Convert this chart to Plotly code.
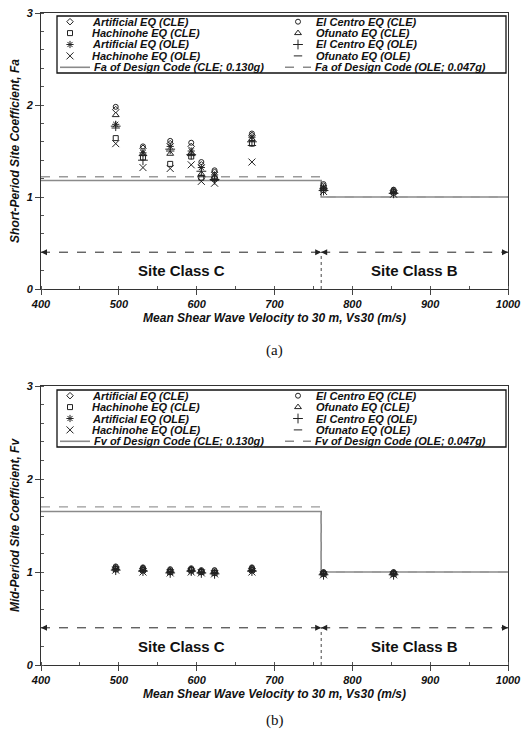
import plotly.graph_objects as go

# ---------------- data ----------------
vs30 = [496, 531, 566, 593, 606, 623, 671, 763, 853]

series_names = ["Artificial EQ (CLE)", "El Centro EQ (CLE)", "Hachinohe EQ (CLE)", "Ofunato EQ (CLE)",
                "Artificial EQ (OLE)", "El Centro EQ (OLE)", "Hachinohe EQ (OLE)", "Ofunato EQ (OLE)"]

fa_art_cle = [1.95, 1.53, 1.58, 1.55, 1.35, 1.27, 1.67, 1.12, 1.07]
fa_elc_cle = [1.98, 1.55, 1.61, 1.59, 1.38, 1.29, 1.69, 1.14, 1.08]
fa_hac_cle = [1.64, 1.43, 1.36, 1.44, 1.21, 1.20, 1.58, 1.08, 1.05]
fa_ofu_cle = [1.89, 1.47, 1.47, 1.48, 1.25, 1.22, 1.63, 1.10, 1.06]
fa_art_ole = [1.79, 1.48, 1.55, 1.50, 1.32, 1.24, 1.65, 1.10, 1.05]
fa_elc_ole = [1.77, 1.40, 1.52, 1.46, 1.28, 1.19, 1.60, 1.07, 1.04]
fa_hac_ole = [1.58, 1.32, 1.31, 1.35, 1.17, 1.15, 1.38, 1.06, 1.03]
fa_ofu_ole = [1.75, 1.45, 1.50, 1.45, 1.22, 1.18, 1.56, 1.09, 1.04]

fv_art_cle = [1.05, 1.04, 1.02, 1.03, 1.01, 1.01, 1.04, 0.99, 0.99]
fv_elc_cle = [1.06, 1.05, 1.03, 1.04, 1.02, 1.02, 1.05, 1.00, 1.00]
fv_hac_cle = [1.03, 1.02, 1.00, 1.02, 1.00, 0.99, 1.02, 0.98, 0.98]
fv_ofu_cle = [1.04, 1.03, 1.01, 1.03, 1.01, 1.00, 1.03, 0.99, 0.99]
fv_art_ole = [1.03, 1.02, 1.00, 1.01, 1.00, 0.99, 1.02, 0.98, 0.98]
fv_elc_ole = [1.02, 1.01, 0.99, 1.01, 0.99, 0.98, 1.01, 0.97, 0.97]
fv_hac_ole = [1.02, 1.00, 0.99, 1.00, 0.99, 0.98, 1.00, 0.97, 0.97]
fv_ofu_ole = [1.03, 1.01, 1.00, 1.01, 0.99, 0.99, 1.01, 0.98, 0.98]

code_vs30 = [400, 760, 1000]
fa_code_cle = [1.18, 1.00, 1.00]
fa_code_ole = [1.22, 1.00, 1.00]
fv_code_cle = [1.65, 1.00, 1.00]
fv_code_ole = [1.70, 1.00, 1.00]

site_boundary = 760
x_min, x_max = 400, 1000
site_arrow_y = 0.4
site_label_y = 0.2
site_labels = ["Site Class C", "Site Class B"]

x_ticks = [400, 500, 600, 700, 800, 900, 1000]
y_ticks = [0, 1, 2, 3]

fa_data = [fa_art_cle, fa_elc_cle, fa_hac_cle, fa_ofu_cle, fa_art_ole, fa_elc_ole, fa_hac_ole, fa_ofu_ole]
fv_data = [fv_art_cle, fv_elc_cle, fv_hac_cle, fv_ofu_cle, fv_art_ole, fv_elc_ole, fv_hac_ole, fv_ofu_ole]

# ---------------- styles ----------------
symbols = ["diamond-open", "circle-open", "square-open", "triangle-up-open",
           "asterisk-open", "cross-thin-open", "x-thin-open", "line-ew-open"]
sizes = [5, 5, 5, 6, 6, 7, 7, 6]
mk_color = "#222222"
code_color = "#8a8a8a"
FONT = "Liberation Sans"

fig = go.Figure()

W, H = 526, 739
ML, MR, MT, MB = 41, 18, 13, 74
plot_h = H - MT - MB
plot_w = W - ML - MR


def py(pix):  # pixel y -> paper y
    return (H - MB - pix) / plot_h


def px(pix):  # pixel x -> paper x
    return (pix - ML) / plot_w


panels = [
    dict(xa="x", ya="y", data=fa_data, cle=fa_code_cle, ole=fa_code_ole, name="Fa",
         ytitle="Short-Period Site Coefficient, Fa", dom=[py(289), py(13)],
         leg=[16, 73], lx="x3", ly="y3", cap="(a)", cap_y=350),
    dict(xa="x2", ya="y2", data=fv_data, cle=fv_code_cle, ole=fv_code_ole, name="Fv",
         ytitle="Mid-Period Site Coefficient, Fv", dom=[py(665), py(386)],
         leg=[390, 447], lx="x4", ly="y4", cap="(b)", cap_y=720),
]

annotations = []
shapes = []

for p in panels:
    # design code lines
    fig.add_trace(go.Scatter(x=code_vs30, y=p["cle"], mode="lines", line_shape="hv",
                             line=dict(color=code_color, width=1.6), xaxis=p["xa"], yaxis=p["ya"],
                             showlegend=False, hoverinfo="skip"))
    fig.add_trace(go.Scatter(x=code_vs30, y=p["ole"], mode="lines", line_shape="hv",
                             line=dict(color="#9a9a9a", width=1.4, dash="dash"), xaxis=p["xa"], yaxis=p["ya"],
                             showlegend=False, hoverinfo="skip"))
    # data markers
    for i, vals in enumerate(p["data"]):
        fig.add_trace(go.Scatter(x=vs30, y=vals, mode="markers", name=series_names[i],
                                 marker=dict(symbol=symbols[i], size=sizes[i], color=mk_color,
                                             line=dict(color=mk_color, width=1)),
                                 xaxis=p["xa"], yaxis=p["ya"], showlegend=False))
    # site class dashed arrows
    for seg in [(x_min, site_boundary), (site_boundary, x_max)]:
        fig.add_trace(go.Scatter(x=list(seg), y=[site_arrow_y, site_arrow_y], mode="lines",
                                 line=dict(color="#222", width=1, dash="dash"),
                                 xaxis=p["xa"], yaxis=p["ya"], showlegend=False, hoverinfo="skip"))
        for end, other in [(seg[0], seg[1]), (seg[1], seg[0])]:
            annotations.append(dict(x=end, y=site_arrow_y, ax=end + (other - end) * 0.02, ay=site_arrow_y,
                                    xref=p["xa"], yref=p["ya"], axref=p["xa"], ayref=p["ya"],
                                    text="", showarrow=True, arrowhead=2, arrowsize=1.2,
                                    arrowwidth=1, arrowcolor="#222"))
    fig.add_trace(go.Scatter(x=[site_boundary, site_boundary], y=[0, site_arrow_y], mode="lines",
                             line=dict(color="#444", width=1, dash="dot"),
                             xaxis=p["xa"], yaxis=p["ya"], showlegend=False, hoverinfo="skip"))
    for lab, cx in zip(site_labels, [(x_min + site_boundary) / 2, (site_boundary + x_max) / 2]):
        annotations.append(dict(x=cx, y=site_label_y, xref=p["xa"], yref=p["ya"], text=lab,
                                showarrow=False, font=dict(family=FONT, size=15, color="#111", weight="bold")))
    # caption
    annotations.append(dict(x=0.5, y=py(p["cap_y"]), xref="paper", yref="paper", text=p["cap"],
                            yanchor="middle", xanchor="center",
                            showarrow=False, font=dict(family="Liberation Serif", size=15, color="#111")))

    # ---- custom legend on an overlay axis (pixel units inside the box) ----
    top, bot = p["leg"]
    box_w = 506 - 57
    box_h = bot - top
    lx, ly = p["lx"], p["ly"]
    shapes.append(dict(type="rect", xref="paper", yref="paper", x0=px(57), x1=px(506),
                       y0=py(bot), y1=py(top),
                       line=dict(color="#111", width=1.3), fillcolor="rgba(0,0,0,0)", layer="above"))
    row_h = box_h / 5
    col_marker_x = [13, 241]
    col_text_x = [33, 257]
    for i, nm in enumerate(series_names):
        row, col = i // 2, i % 2
        yc = row_h * (row + 0.5)
        fig.add_trace(go.Scatter(x=[col_marker_x[col]], y=[yc], mode="markers",
                                 marker=dict(symbol=symbols[i], size=sizes[i], color=mk_color,
                                             line=dict(color=mk_color, width=1)),
                                 xaxis=lx, yaxis=ly, showlegend=False, hoverinfo="skip"))
        annotations.append(dict(x=col_text_x[col], y=yc, xref=lx, yref=ly, text=nm, xanchor="left",
                                showarrow=False,
                                font=dict(family=FONT, size=11, color="#111", weight="bold", style="italic")))
    yc = row_h * 4.5
    code_names = [f"{p['name']} of Design Code (CLE; 0.130g)", f"{p['name']} of Design Code (OLE; 0.047g)"]
    line_spans = [[3, 33], [228, 254]]
    for j in range(2):
        fig.add_trace(go.Scatter(x=line_spans[j], y=[yc, yc], mode="lines",
                                 line=dict(color=code_color, width=1.6, dash="solid" if j == 0 else "dash"),
                                 xaxis=lx, yaxis=ly, showlegend=False, hoverinfo="skip"))
        annotations.append(dict(x=[35, 256][j], y=yc, xref=lx, yref=ly, text=code_names[j], xanchor="left",
                                showarrow=False,
                                font=dict(family=FONT, size=11, color="#111", weight="bold", style="italic")))
    p["box"] = (box_w, box_h)

tick_font = dict(family=FONT, size=11, color="#111", weight="bold", style="italic")
title_font = dict(family=FONT, size=12, color="#111", weight="bold", style="italic")

for k, p in enumerate(panels):
    xs = "xaxis" if k == 0 else "xaxis2"
    ys = "yaxis" if k == 0 else "yaxis2"
    fig.update_layout({
        xs: dict(domain=[0, 1], range=[x_min, x_max], tickvals=x_ticks, ticks="outside", ticklen=5,
                 showline=True, mirror=True, linecolor="#333", linewidth=1, showgrid=False, zeroline=False,
                 tickfont=tick_font, anchor=p["ya"], automargin=False,
                 minor=dict(dtick=50, ticks="inside", ticklen=3, tickcolor="#555", showgrid=False),
                 title=dict(text="Mean Shear Wave Velocity to 30 m, Vs30 (m/s)", font=title_font, standoff=4)),
        ys: dict(domain=p["dom"], range=[0, 3], tickvals=y_ticks, ticks="outside", ticklen=5,
                 showline=True, mirror=True, linecolor="#333", linewidth=1, showgrid=False, zeroline=False,
                 tickfont=tick_font, anchor=p["xa"], automargin=False,
                 minor=dict(dtick=0.2, ticks="inside", ticklen=3, tickcolor="#555", showgrid=False),
                 title=dict(text=p["ytitle"], font=title_font, standoff=3)),
    })
    top, bot = p["leg"]
    box_w, box_h = p["box"]
    lxs = "xaxis3" if k == 0 else "xaxis4"
    lys = "yaxis3" if k == 0 else "yaxis4"
    fig.update_layout({
        lxs: dict(domain=[px(57), px(506)], range=[0, box_w], visible=False, fixedrange=True,
                  anchor=p["ly"], automargin=False),
        lys: dict(domain=[py(bot), py(top)], range=[box_h, 0], visible=False, fixedrange=True,
                  anchor=p["lx"], automargin=False),
    })

fig.update_layout(width=W, height=H, margin=dict(l=ML, r=MR, t=MT, b=MB, autoexpand=False),
                  plot_bgcolor="white", paper_bgcolor="white",
                  annotations=annotations, shapes=shapes, showlegend=False)

fig.write_html("out.html", config={"displayModeBar": False},
               post_script="document.body.style.margin='0';document.body.style.overflow='hidden';")
